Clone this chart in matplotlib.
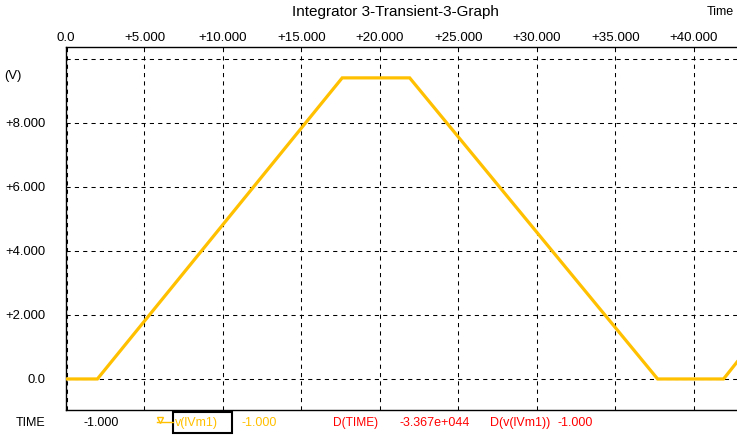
import matplotlib
matplotlib.use("Agg")
import matplotlib.pyplot as plt
from matplotlib.patches import Rectangle
from matplotlib.lines import Line2D

plt.rcParams['font.family'] = ['Liberation Sans', 'DejaVu Sans']

time_pts = [0.0, 2.0, 17.6, 21.9, 37.7, 41.9, 42.76]
v_pts = [0.0, 0.0, 9.41, 9.41, 0.0, 0.0, 0.53]
x_ticks = [0, 5, 10, 15, 20, 25, 30, 35, 40]
x_tick_labels = ["0.0", "+5.000", "+10.000", "+15.000", "+20.000", "+25.000", "+30.000", "+35.000", "+40.000"]
y_ticks = [0, 2, 4, 6, 8]
y_tick_labels = ["0.0", "+2.000", "+4.000", "+6.000", "+8.000"]

W, H = 737, 437
fig = plt.figure(figsize=(W / 100, H / 100), dpi=100)
fig.patch.set_facecolor('white')
ax = fig.add_axes([66 / W, (H - 410) / H, (W - 66) / W, (410 - 47) / H])

ax.set_xlim(0, (W - 65.7) / 15.7)
ax.set_ylim(-0.97, 10.375)

grid_kw = dict(color='black', lw=0.75, dashes=(4, 4), zorder=1)
for xv in range(5, 45, 5):
    ax.axvline(xv, **grid_kw)
for yv in [0, 2, 4, 6, 8, 10]:
    ax.axhline(yv, **grid_kw)
ax.axvline(0.05, **grid_kw)

orange = '#FFC000'
ax.plot(time_pts, v_pts, color=orange, lw=2.3, zorder=3, solid_joinstyle='miter')

ax.xaxis.tick_top()
ax.set_xticks(x_ticks)
ax.set_xticklabels(x_tick_labels)
ax.set_yticks(y_ticks)
ax.set_yticklabels(y_tick_labels)
ax.tick_params(axis='x', length=0, pad=2, labelsize=9.6)
ax.tick_params(axis='y', length=0, pad=15, labelsize=9.4)
for lbl in ax.get_yticklabels():
    lbl.set_horizontalalignment('right')

ax.spines['right'].set_visible(False)
for s in ['left', 'top', 'bottom']:
    ax.spines[s].set_linewidth(1.0)
    ax.spines[s].set_color('black')

def px(x, y):
    return x / W, 1 - y / H

fig.text(*px(395, 12), "Integrator 3-Transient-3-Graph", ha='center', va='center', fontsize=11)
fig.text(*px(734, 12), "Time", ha='right', va='center', fontsize=9)
fig.text(*px(4, 76), "(V)", ha='left', va='center', fontsize=9.4)

ty = 423
fig.text(*px(16, ty), "TIME", ha='left', va='center', fontsize=9)
fig.text(*px(83, ty), "-1.000", ha='left', va='center', fontsize=9)
fig.add_artist(Line2D([157 / W, 173 / W], [1 - 422 / H, 1 - 422 / H], color=orange, lw=1))
fig.add_artist(Line2D([160 / W], [1 - 420 / H], marker='v', markersize=5, color=orange,
                      markerfacecolor='white', markeredgecolor=orange, lw=0))
fig.add_artist(Rectangle((173 / W, 1 - 433 / H), 59 / W, 21 / H, fill=False,
                         edgecolor='black', lw=1.5, transform=fig.transFigure))
fig.text(*px(175, ty), "v(lVm1)", ha='left', va='center', fontsize=9, color=orange)
fig.text(*px(241, ty), "-1.000", ha='left', va='center', fontsize=9, color=orange)
red = '#FF0000'
fig.text(*px(333, ty), "D(TIME)", ha='left', va='center', fontsize=8.6, color=red)
fig.text(*px(400, ty), "-3.367e+044", ha='left', va='center', fontsize=9, color=red)
fig.text(*px(490, ty), "D(v(lVm1))", ha='left', va='center', fontsize=9, color=red)
fig.text(*px(557, ty), "-1.000", ha='left', va='center', fontsize=9, color=red)

fig.savefig("out.png", dpi=100, facecolor='white')
